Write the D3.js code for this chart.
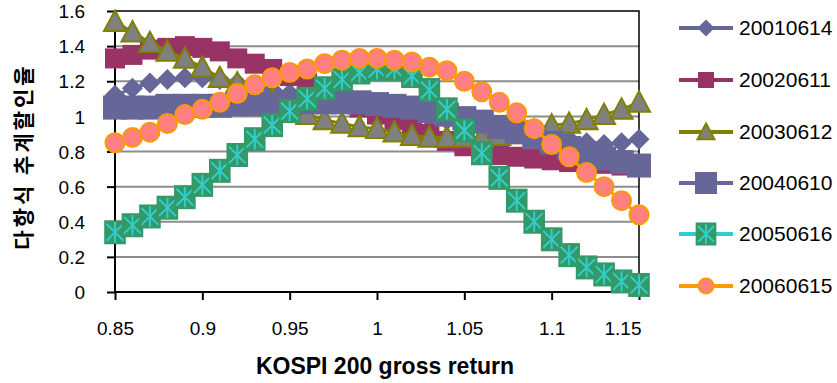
<!DOCTYPE html>
<html>
<head>
<meta charset="utf-8">
<script src="https://cdn.jsdelivr.net/npm/d3@7/dist/d3.min.js"></script>
<style>
  body { margin: 0; background: #fff; }
  svg { display: block; }
  .tick-label { font-family: "Liberation Sans", Arial, sans-serif; font-size: 19px; fill: #000; }
  .legend-label { font-family: "Liberation Sans", Arial, sans-serif; font-size: 21px; fill: #000; }
  .axis-title { font-family: "Liberation Sans", Arial, sans-serif; font-weight: bold; font-size: 23px; fill: #000; }
  .axis-title-kr { font-family: "Noto Sans CJK KR", sans-serif; font-weight: bold; font-size: 21px; letter-spacing: 3px; fill: #000; }
</style>
</head>
<body>
<div id="chart"></div>
<script>
// KOSPI 200 gross return (x categories)
var returns = [0.85, 0.86, 0.87, 0.88, 0.89, 0.90, 0.91, 0.92, 0.93, 0.94,
               0.95, 0.96, 0.97, 0.98, 0.99, 1.00, 1.01, 1.02, 1.03, 1.04,
               1.05, 1.06, 1.07, 1.08, 1.09, 1.10, 1.11, 1.12, 1.13, 1.14, 1.15];
var xTicks = [0.85, 0.9, 0.95, 1, 1.05, 1.1, 1.15];
var yTicks = [0, 0.2, 0.4, 0.6, 0.8, 1, 1.2, 1.4, 1.6];

var s20010614 = [1.12, 1.16, 1.19, 1.21, 1.22, 1.22, 1.21, 1.19, 1.17, 1.15,
                 1.13, 1.11, 1.09, 1.07, 1.05, 1.04, 1.02, 1.01, 0.99, 0.98,
                 0.97, 0.95, 0.94, 0.92, 0.90, 0.89, 0.87, 0.85, 0.84, 0.85, 0.87];
var s20020611 = [1.33, 1.35, 1.38, 1.39, 1.40, 1.39, 1.37, 1.33, 1.30, 1.27,
                 1.23, 1.19, 1.14, 1.09, 1.05, 1.01, 0.98, 0.94, 0.90, 0.86,
                 0.83, 0.80, 0.78, 0.77, 0.76, 0.75, 0.74, 0.73, 0.73, 0.72, 0.72];
var s20030612 = [1.54, 1.48, 1.42, 1.37, 1.33, 1.28, 1.22, 1.19, 1.15, 1.10,
                 1.05, 1.01, 0.98, 0.96, 0.94, 0.93, 0.91, 0.89, 0.88, 0.88,
                 0.88, 0.88, 0.89, 0.90, 0.92, 0.95, 0.96, 0.98, 1.01, 1.04, 1.08];
var s20040610 = [1.05, 1.05, 1.05, 1.06, 1.06, 1.06, 1.06, 1.07, 1.07, 1.07,
                 1.08, 1.08, 1.08, 1.08, 1.08, 1.07, 1.06, 1.05, 1.03, 1.01,
                 0.99, 0.97, 0.94, 0.91, 0.88, 0.85, 0.82, 0.79, 0.76, 0.74, 0.72];
var s20050616 = [0.34, 0.38, 0.43, 0.48, 0.54, 0.61, 0.69, 0.78, 0.87, 0.95,
                 1.03, 1.10, 1.16, 1.21, 1.25, 1.27, 1.27, 1.23, 1.15, 1.04,
                 0.92, 0.79, 0.65, 0.52, 0.40, 0.30, 0.21, 0.14, 0.10, 0.06, 0.04];
var s20060615 = [0.85, 0.88, 0.91, 0.96, 1.01, 1.04, 1.08, 1.13, 1.18, 1.22,
                 1.25, 1.27, 1.30, 1.32, 1.33, 1.33, 1.32, 1.31, 1.28, 1.26,
                 1.20, 1.14, 1.08, 1.02, 0.93, 0.84, 0.77, 0.68, 0.60, 0.52, 0.44];

var seriesNames = ['20010614', '20020611', '20030612', '20040610', '20050616', '20060615'];
var seriesValues = [s20010614, s20020611, s20030612, s20040610, s20050616, s20060615];

// marker styles per series
var styles = [
    { line: '#666699', marker: 'diamond', fill: '#666699', stroke: 'none', size: 10.5, legendSize: 8.5 },
    { line: '#993366', marker: 'square', fill: '#993366', stroke: 'none', size: 10, legendSize: 8 },
    { line: '#808000', marker: 'triangle', fill: '#808080', stroke: '#808000', size: 11, legendSize: 8.5 },
    { line: '#666699', marker: 'square', fill: '#666699', stroke: 'none', size: 12, legendSize: 11 },
    { line: '#33CCCC', marker: 'star', fill: '#339966', stroke: '#33CCCC', size: 12, legendSize: 11.5 },
    { line: '#FF9900', marker: 'circle', fill: '#FF8080', stroke: '#FF9900', size: 9.5, legendSize: 7.5 }
];

var width = 837, height = 383;
var margin = { left: 115, right: 198, top: 11, bottom: 91 };

var svg = d3.select('#chart').append('svg')
    .attr('width', width)
    .attr('height', height);

var x = d3.scaleLinear().domain([0.85, 1.15]).range([margin.left, width - margin.right]);
var y = d3.scaleLinear().domain([0, 1.6]).range([height - margin.bottom, margin.top]);

// gridlines
svg.append('g')
    .selectAll('line')
    .data(yTicks.filter(function (d) { return d > 0 && d < 1.6; }))
    .enter().append('line')
    .attr('x1', x(0.85)).attr('x2', x(1.15))
    .attr('y1', function (d) { return y(d); })
    .attr('y2', function (d) { return y(d); })
    .attr('stroke', '#8c8c8c')
    .attr('stroke-width', 2);

// plot border (top / right)
svg.append('path')
    .attr('d', 'M' + x(0.85) + ',' + y(1.6) + 'H' + x(1.15) + 'V' + y(0))
    .attr('fill', 'none')
    .attr('stroke', '#000')
    .attr('stroke-width', 1.5);

// y axis
var yAxis = d3.axisLeft(y).tickValues(yTicks).tickSize(8).tickFormat(d3.format('~g'));
var gy = svg.append('g')
    .attr('transform', 'translate(' + x(0.85) + ',0)')
    .call(yAxis);
gy.select('.domain').attr('d', 'M0,' + y(0) + 'V' + y(1.6)).attr('stroke', '#000').attr('stroke-width', 2);
gy.selectAll('.tick line').attr('stroke', '#000').attr('stroke-width', 2);
gy.selectAll('.tick text').attr('class', 'tick-label').attr('x', -30).attr('dy', '0.35em');

// x axis
var xAxis = d3.axisBottom(x).tickValues(xTicks).tickSize(8).tickFormat(d3.format('~g'));
var gx = svg.append('g')
    .attr('transform', 'translate(0,' + y(0) + ')')
    .call(xAxis);
gx.select('.domain').attr('d', 'M' + x(0.85) + ',0H' + x(1.15)).attr('stroke', '#000').attr('stroke-width', 2);
gx.selectAll('.tick line').attr('stroke', '#000').attr('stroke-width', 2);
gx.selectAll('.tick text').attr('class', 'tick-label').attr('y', 36).attr('dy', '0.35em');
// last label sits pulled in against the plot edge, as in the original
gx.selectAll('.tick text').filter(function (d) { return d === 1.15; })
    .attr('text-anchor', 'end').attr('x', 2);

// axis titles
svg.append('text')
    .attr('class', 'axis-title')
    .attr('x', (x(0.85) + x(1.15)) / 2 + 8)
    .attr('y', 368)
    .attr('text-anchor', 'middle')
    .attr('dominant-baseline', 'middle')
    .text('KOSPI 200 gross return');

svg.append('text')
    .attr('class', 'axis-title-kr')
    .attr('transform', 'translate(25,' + ((y(0) + y(1.6)) / 2 + 5) + ') rotate(-90)')
    .attr('text-anchor', 'middle')
    .attr('dominant-baseline', 'middle')
    .text('다항식 추계할인율');

function drawMarker(g, st, cx, cy, s) {
    if (st.marker === 'diamond') {
        g.append('path')
            .attr('d', 'M' + cx + ',' + (cy - s) + 'L' + (cx + s) + ',' + cy + 'L' + cx + ',' + (cy + s) + 'L' + (cx - s) + ',' + cy + 'Z')
            .attr('fill', st.fill);
    } else if (st.marker === 'square') {
        g.append('rect')
            .attr('x', cx - s).attr('y', cy - s)
            .attr('width', 2 * s).attr('height', 2 * s)
            .attr('fill', st.fill);
    } else if (st.marker === 'triangle') {
        g.append('path')
            .attr('d', 'M' + cx + ',' + (cy - s) + 'L' + (cx + s) + ',' + (cy + s * 0.85) + 'L' + (cx - s) + ',' + (cy + s * 0.85) + 'Z')
            .attr('fill', st.fill)
            .attr('stroke', st.stroke)
            .attr('stroke-width', 2)
            .attr('stroke-linejoin', 'miter');
    } else if (st.marker === 'star') {
        g.append('rect')
            .attr('x', cx - s * 0.9).attr('y', cy - s)
            .attr('width', 1.8 * s).attr('height', 2 * s)
            .attr('fill', st.fill);
        var a = s * 0.7;
        g.append('path')
            .attr('d', 'M' + cx + ',' + (cy - s * 0.85) + 'V' + (cy + s * 0.85) +
                'M' + (cx - a) + ',' + (cy - a) + 'L' + (cx + a) + ',' + (cy + a) +
                'M' + (cx + a) + ',' + (cy - a) + 'L' + (cx - a) + ',' + (cy + a))
            .attr('stroke', st.stroke)
            .attr('stroke-width', 2)
            .attr('fill', 'none');
    } else if (st.marker === 'circle') {
        g.append('circle')
            .attr('cx', cx).attr('cy', cy).attr('r', s)
            .attr('fill', st.fill)
            .attr('stroke', st.stroke)
            .attr('stroke-width', 2);
    }
}

var line = d3.line()
    .x(function (d, i) { return x(returns[i]); })
    .y(function (d) { return y(d); });

// series, drawn in order so later ones sit on top
seriesValues.forEach(function (vals, k) {
    var st = styles[k];
    var g = svg.append('g').attr('class', 'series');
    g.append('path')
        .attr('d', line(vals))
        .attr('fill', 'none')
        .attr('stroke', st.line)
        .attr('stroke-width', 3);
    vals.forEach(function (v, i) {
        drawMarker(g, st, x(returns[i]), y(v), st.size);
    });
});

// legend
var legend = svg.append('g').attr('class', 'legend');
var legendY = [28, 80, 132, 183, 234, 286];
seriesNames.forEach(function (name, k) {
    var st = styles[k];
    var g = legend.append('g');
    var ly = legendY[k];
    g.append('line')
        .attr('x1', 679).attr('x2', 733)
        .attr('y1', ly).attr('y2', ly)
        .attr('stroke', st.line)
        .attr('stroke-width', 4);
    drawMarker(g, st, 706, ly, st.legendSize);
    g.append('text')
        .attr('class', 'legend-label')
        .attr('x', 739)
        .attr('y', ly)
        .attr('dy', '0.35em')
        .text(name);
});
</script>
</body>
</html>
